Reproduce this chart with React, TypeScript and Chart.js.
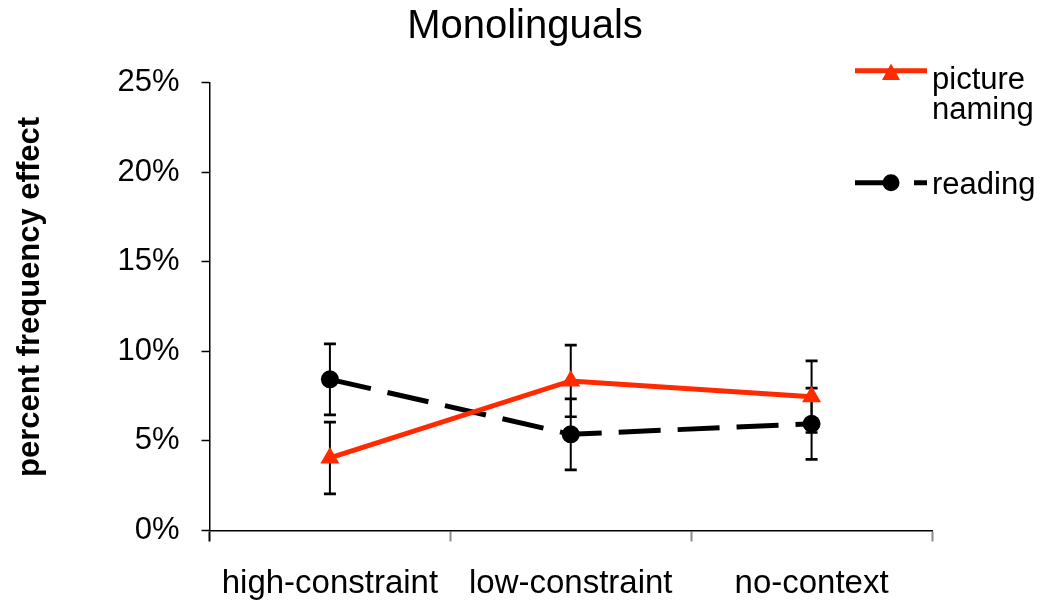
import React, { useEffect, useRef } from "react";
import { Chart, registerables } from "chart.js";

Chart.register(...registerables);

const TITLE = "Monolinguals";
const Y_TITLE = "percent frequency effect";
const CATEGORIES = ["high-constraint", "low-constraint", "no-context"];
const PICTURE_LABEL = ["picture", "naming"];
const READING_LABEL = ["reading"];
const PICTURE_VALUES = [4.05, 8.35, 7.47];
const PICTURE_ERRORS = [2.0, 2.0, 2.0];
const READING_VALUES = [8.44, 5.37, 5.96];
const READING_ERRORS = [1.98, 1.98, 1.99];
const Y_MIN = 0;
const Y_MAX = 25;
const Y_STEP = 5;

const RED = "#ff2a00";
const BLACK = "#000000";
const FONT = '"Liberation Sans", Arial, sans-serif';
const DASH = [42, 17];

const errorBarsPlugin = {
  id: "errorBars",
  beforeDatasetsDraw(chart: any) {
    const ctx = chart.ctx;
    const yScale = chart.scales.y;
    ctx.save();
    ctx.strokeStyle = BLACK;
    chart.data.datasets.forEach((ds: any, di: number) => {
      const meta = chart.getDatasetMeta(di);
      meta.data.forEach((pt: any, i: number) => {
        const v = ds.data[i];
        const e = ds.errors[i];
        const top = yScale.getPixelForValue(v + e);
        const bot = yScale.getPixelForValue(v - e);
        const x = pt.x;
        ctx.lineWidth = 2;
        ctx.beginPath();
        ctx.moveTo(x, top);
        ctx.lineTo(x, bot);
        ctx.stroke();
        ctx.lineWidth = 2.7;
        ctx.beginPath();
        ctx.moveTo(x - 6, top);
        ctx.lineTo(x + 6, top);
        ctx.moveTo(x - 6, bot);
        ctx.lineTo(x + 6, bot);
        ctx.stroke();
      });
    });
    ctx.restore();
  },
};

const decorPlugin = {
  id: "decor",
  afterDraw(chart: any) {
    const ctx = chart.ctx;
    ctx.save();
    // Title
    ctx.fillStyle = BLACK;
    ctx.font = `40px ${FONT}`;
    ctx.textAlign = "center";
    ctx.textBaseline = "alphabetic";
    ctx.fillText(TITLE, 525, 38);

    // Y axis title
    ctx.save();
    ctx.translate(39, 297);
    ctx.rotate(-Math.PI / 2);
    ctx.font = `bold 31px ${FONT}`;
    ctx.textAlign = "center";
    ctx.fillText(Y_TITLE, 0, 0);
    ctx.restore();

    // Legend
    const lx0 = 855;
    const lx1 = 927;
    const mx = 891;
    // picture naming
    ctx.strokeStyle = RED;
    ctx.lineWidth = 5;
    ctx.beginPath();
    ctx.moveTo(lx0, 70.7);
    ctx.lineTo(lx1, 70.7);
    ctx.stroke();
    ctx.fillStyle = RED;
    ctx.beginPath();
    ctx.moveTo(mx, 63.5);
    ctx.lineTo(mx + 9, 80);
    ctx.lineTo(mx - 9, 80);
    ctx.closePath();
    ctx.fill();
    // reading
    ctx.strokeStyle = BLACK;
    ctx.lineWidth = 5;
    ctx.setLineDash(DASH);
    ctx.beginPath();
    ctx.moveTo(lx0, 182.7);
    ctx.lineTo(lx1, 182.7);
    ctx.stroke();
    ctx.setLineDash([]);
    ctx.fillStyle = BLACK;
    ctx.beginPath();
    ctx.arc(mx, 182.7, 8.5, 0, Math.PI * 2);
    ctx.fill();

    ctx.fillStyle = BLACK;
    ctx.font = `31px ${FONT}`;
    ctx.textAlign = "left";
    ctx.textBaseline = "alphabetic";
    ctx.fillText(PICTURE_LABEL[0], 932, 88.5);
    ctx.fillText(PICTURE_LABEL[1], 932, 119);
    ctx.fillText(READING_LABEL[0], 932, 193.5);
    ctx.restore();
  },
};

export default function App() {
  const canvasRef = useRef<HTMLCanvasElement | null>(null);

  useEffect(() => {
    document.body.style.margin = "0";
    document.body.style.overflow = "hidden";
    const canvas = canvasRef.current;
    if (!canvas) return;
    const chart = new Chart(canvas, {
      type: "line",
      data: {
        labels: CATEGORIES,
        datasets: [
          {
            label: PICTURE_LABEL.join(" "),
            data: PICTURE_VALUES,
            errors: PICTURE_ERRORS,
            borderColor: RED,
            backgroundColor: RED,
            borderWidth: 5,
            pointStyle: "triangle",
            pointRadius: 11,
            pointBackgroundColor: RED,
            pointBorderColor: RED,
            pointBorderWidth: 0,
            tension: 0,
          } as any,
          {
            label: READING_LABEL[0],
            data: READING_VALUES,
            errors: READING_ERRORS,
            borderColor: BLACK,
            backgroundColor: BLACK,
            borderWidth: 5,
            borderDash: DASH,
            pointStyle: "circle",
            pointRadius: 9,
            pointBackgroundColor: BLACK,
            pointBorderColor: BLACK,
            pointBorderWidth: 0,
            tension: 0,
          } as any,
        ],
      },
      options: {
        responsive: false,
        animation: false,
        devicePixelRatio: 1,
        layout: { padding: { top: 82.7, right: 111, left: 0, bottom: 0 } },
        plugins: {
          legend: { display: false },
          title: { display: false },
          tooltip: { enabled: false },
        },
        scales: {
          x: {
            type: "category",
            offset: true,
            afterFit: (s: any) => {
              s.height = 607 - 530.5;
            },
            grid: {
              offset: true,
              drawOnChartArea: false,
              drawTicks: true,
              tickLength: 11,
              tickWidth: 2,
              tickColor: (c: any) => (c.index === 0 ? BLACK : "#8c8c8c"),
            },
            border: { color: BLACK, width: 1.5 },
            ticks: {
              color: BLACK,
              padding: 23,
              font: { family: FONT, size: 33 },
              maxRotation: 0,
              autoSkip: false,
            },
          },
          y: {
            min: Y_MIN,
            max: Y_MAX,
            afterFit: (s: any) => {
              s.width = 209.5;
            },
            grid: {
              drawOnChartArea: false,
              drawTicks: true,
              tickLength: 8,
              tickWidth: 1.5,
              tickColor: BLACK,
            },
            border: { color: BLACK, width: 1.5 },
            ticks: {
              stepSize: Y_STEP,
              color: BLACK,
              padding: 22,
              font: { family: FONT, size: 31 },
              callback: (v: any) => `${v}%`,
            },
          },
        },
      } as any,
      plugins: [errorBarsPlugin, decorPlugin],
    });
    return () => chart.destroy();
  }, []);

  return (
    <div style={{ width: 1043, height: 607, background: "#fff" }}>
      <canvas ref={canvasRef} width={1043} height={607} style={{ display: "block" }} />
    </div>
  );
}
